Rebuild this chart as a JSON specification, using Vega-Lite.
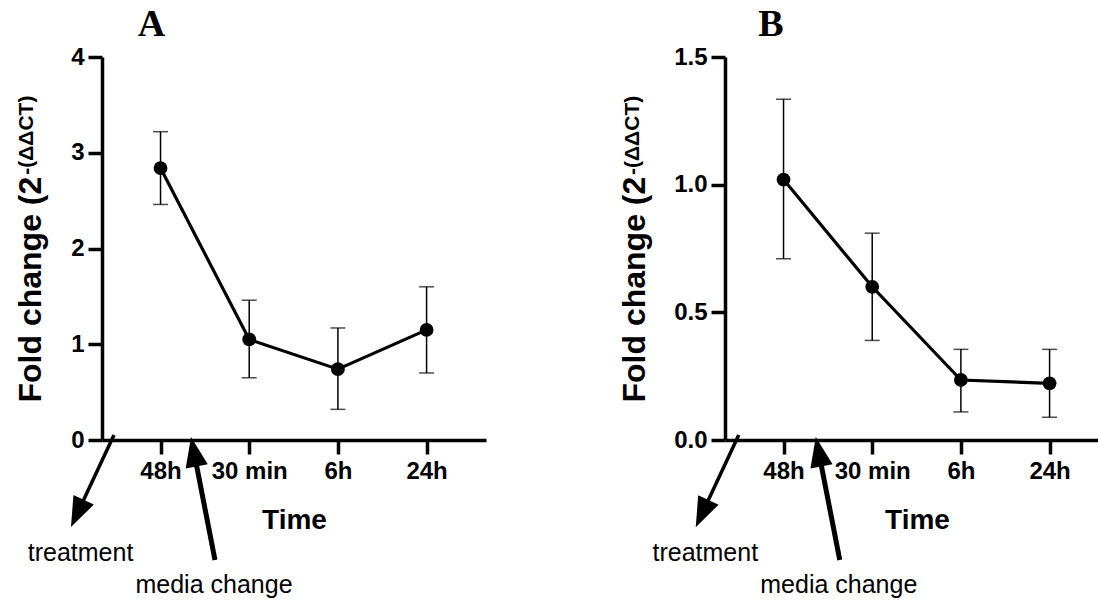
{
  "$schema": "https://vega.github.io/schema/vega-lite/v6.json",
  "padding": {"left": 13, "top": 6, "right": 0, "bottom": 0},
  "background": "white",
  "bounds": "flush",
  "spacing": 239,
  "config": {
    "view": {"stroke": null},
    "font": "Liberation Sans"
  },
  "datasets": {
    "A": [
      {"time": "48h", "t": 1, "mean": 2.84, "lo": 2.46, "hi": 3.22},
      {"time": "30 min", "t": 2, "mean": 1.05, "lo": 0.65, "hi": 1.46},
      {"time": "6h", "t": 3, "mean": 0.74, "lo": 0.32, "hi": 1.17},
      {"time": "24h", "t": 4, "mean": 1.15, "lo": 0.70, "hi": 1.60}
    ],
    "B": [
      {"time": "48h", "t": 1, "mean": 1.02, "lo": 0.71, "hi": 1.335},
      {"time": "30 min", "t": 2, "mean": 0.60, "lo": 0.39, "hi": 0.81},
      {"time": "6h", "t": 3, "mean": 0.235, "lo": 0.11, "hi": 0.355},
      {"time": "24h", "t": 4, "mean": 0.222, "lo": 0.089, "hi": 0.355}
    ],
    "arrowsA": [
      {"label": "treatment", "x": 0.475, "y": 0.052, "x2": 0.0615, "y2": -0.767},
      {"label": "media change", "x": 1.614, "y": -1.253, "x2": 1.376, "y2": -0.122}
    ],
    "labelsA": [
      {"label": "treatment", "x": 0.098, "y": -1.264},
      {"label": "media change", "x": 1.603, "y": -1.598}
    ],
    "supA": [{"label": "-(ΔΔCT)", "x": -0.438, "y": 2.77}],
    "arrowsB": [
      {"label": "treatment", "x": 0.495, "y": 0.0195, "x2": 0.0815, "y2": -0.288},
      {"label": "media change", "x": 1.634, "y": -0.470, "x2": 1.396, "y2": -0.0458}
    ],
    "labelsB": [
      {"label": "treatment", "x": 0.118, "y": -0.474},
      {"label": "media change", "x": 1.623, "y": -0.600}
    ],
    "supB": [{"label": "-(ΔΔCT)", "x": -0.63, "y": 1.038}]
  },
  "hconcat": [
    {
      "width": 384, "height": 383,
      "title": {"text": "A", "font": "Liberation Serif", "fontSize": 38, "fontWeight": "bold", "color": "black", "anchor": "start", "frame": "group", "align": "center", "dx": 49.5, "offset": 1},
      "layer": [
        {
          "data": {"name": "A"},
          "mark": {"type": "rule", "color": "black", "strokeWidth": 1.5},
          "encoding": {
            "x": {"field": "t", "type": "quantitative", "scale": {"domain": [0.34, 4.67], "nice": false, "zero": false},
                  "axis": {"values": [1, 2, 3, 4], "labelExpr": "['','48h','30 min','6h','24h'][datum.value]", "title": "Time",
                    "grid": false, "domainColor": "black", "domainWidth": 3.5, "tickColor": "black", "tickWidth": 3.5, "tickSize": 14,
                    "labelFont": "Liberation Sans", "labelFontSize": 24, "labelFontWeight": "bold", "labelColor": "black", "labelPadding": 5,
                    "labelOverlap": false, "labelFlush": false,
                    "titleFont": "Liberation Sans", "titleFontSize": 28, "titleFontWeight": "bold", "titleColor": "black",
                    "titleY": 88, "titleBaseline": "alphabetic"}},
            "y": {"field": "lo", "type": "quantitative", "scale": {"domain": [0, 4], "nice": false},
                  "axis": {"values": [0, 1, 2, 3, 4], "format": "d", "title": "Fold change (2",
                    "grid": false, "domainColor": "black", "domainWidth": 3.5, "tickColor": "black", "tickWidth": 3.5, "tickSize": 14,
                    "labelFont": "Liberation Sans", "labelFontSize": 24, "labelFontWeight": "bold", "labelColor": "black", "labelPadding": 4,
                    "labelOverlap": false, "labelFlush": false,
                    "titleFont": "Liberation Sans", "titleFontSize": 32, "titleFontWeight": "bold", "titleColor": "black",
                    "titleAngle": 270, "titleAlign": "left", "titleBaseline": "alphabetic", "titleX": -62, "titleY": 345}},
            "y2": {"field": "hi"}
          }
        },
        {
          "data": {"name": "A"},
          "mark": {"type": "tick", "orient": "horizontal", "color": "black", "size": 15, "thickness": 1.5},
          "encoding": {
            "x": {"field": "t", "type": "quantitative", "scale": {"domain": [0.34, 4.67], "nice": false, "zero": false}},
            "y": {"field": "lo", "type": "quantitative", "scale": {"domain": [0, 4], "nice": false}}
          }
        },
        {
          "data": {"name": "A"},
          "mark": {"type": "tick", "orient": "horizontal", "color": "black", "size": 15, "thickness": 1.5},
          "encoding": {
            "x": {"field": "t", "type": "quantitative", "scale": {"domain": [0.34, 4.67], "nice": false, "zero": false}},
            "y": {"field": "hi", "type": "quantitative", "scale": {"domain": [0, 4], "nice": false}}
          }
        },
        {
          "data": {"name": "A"},
          "mark": {"type": "line", "color": "black", "strokeWidth": 3.2},
          "encoding": {
            "x": {"field": "t", "type": "quantitative", "scale": {"domain": [0.34, 4.67], "nice": false, "zero": false}},
            "y": {"field": "mean", "type": "quantitative", "scale": {"domain": [0, 4], "nice": false}}
          }
        },
        {
          "data": {"name": "A"},
          "mark": {"type": "point", "filled": true, "color": "black", "opacity": 1, "size": 190, "shape": "circle"},
          "encoding": {
            "x": {"field": "t", "type": "quantitative", "scale": {"domain": [0.34, 4.67], "nice": false, "zero": false}},
            "y": {"field": "mean", "type": "quantitative", "scale": {"domain": [0, 4], "nice": false}}
          }
        },
        {
          "data": {"name": "arrowsA"},
          "transform": [{"filter": "datum.label === 'treatment'"}],
          "mark": {"type": "rule", "color": "black", "strokeWidth": 3.5},
          "encoding": {
            "x": {"field": "x", "type": "quantitative", "scale": {"domain": [0.34, 4.67], "nice": false, "zero": false}},
            "y": {"field": "y", "type": "quantitative", "scale": {"domain": [0, 4], "nice": false}},
            "x2": {"field": "x2"}, "y2": {"field": "y2"}
          }
        },
        {
          "data": {"name": "arrowsA"},
          "transform": [{"filter": "datum.label === 'treatment'"}],
          "mark": {"type": "point", "filled": true, "color": "black", "opacity": 1, "size": 900, "shape": "M0,-1L0.75,1L-0.75,1Z", "angle": 205},
          "encoding": {
            "x": {"field": "x2", "type": "quantitative", "scale": {"domain": [0.34, 4.67], "nice": false, "zero": false}},
            "y": {"field": "y2", "type": "quantitative", "scale": {"domain": [0, 4], "nice": false}}
          }
        },
        {
          "data": {"name": "arrowsA"},
          "transform": [{"filter": "datum.label === 'media change'"}],
          "mark": {"type": "rule", "color": "black", "strokeWidth": 5},
          "encoding": {
            "x": {"field": "x", "type": "quantitative", "scale": {"domain": [0.34, 4.67], "nice": false, "zero": false}},
            "y": {"field": "y", "type": "quantitative", "scale": {"domain": [0, 4], "nice": false}},
            "x2": {"field": "x2"}, "y2": {"field": "y2"}
          }
        },
        {
          "data": {"name": "arrowsA"},
          "transform": [{"filter": "datum.label === 'media change'"}],
          "mark": {"type": "point", "filled": true, "color": "black", "opacity": 1, "size": 900, "shape": "M0,-1L0.75,1L-0.75,1Z", "angle": 349},
          "encoding": {
            "x": {"field": "x2", "type": "quantitative", "scale": {"domain": [0.34, 4.67], "nice": false, "zero": false}},
            "y": {"field": "y2", "type": "quantitative", "scale": {"domain": [0, 4], "nice": false}}
          }
        },
        {
          "data": {"name": "labelsA"},
          "mark": {"type": "text", "font": "Liberation Sans", "fontSize": 25, "color": "black", "align": "center", "baseline": "alphabetic"},
          "encoding": {
            "x": {"field": "x", "type": "quantitative", "scale": {"domain": [0.34, 4.67], "nice": false, "zero": false}},
            "y": {"field": "y", "type": "quantitative", "scale": {"domain": [0, 4], "nice": false}},
            "text": {"field": "label"}
          }
        },
        {
          "data": {"name": "supA"},
          "mark": {"type": "text", "font": "Liberation Sans", "fontSize": 21, "fontWeight": "bold", "color": "black", "align": "left", "baseline": "alphabetic", "angle": 270},
          "encoding": {
            "x": {"field": "x", "type": "quantitative", "scale": {"domain": [0.34, 4.67], "nice": false, "zero": false}},
            "y": {"field": "y", "type": "quantitative", "scale": {"domain": [0, 4], "nice": false}},
            "text": {"field": "label"}
          }
        }
      ]
    },
    {
      "width": 384, "height": 383,
      "title": {"text": "B", "font": "Liberation Serif", "fontSize": 38, "fontWeight": "bold", "color": "black", "anchor": "start", "frame": "group", "align": "center", "dx": 46, "offset": 1},
      "layer": [
        {
          "data": {"name": "B"},
          "mark": {"type": "rule", "color": "black", "strokeWidth": 1.5},
          "encoding": {
            "x": {"field": "t", "type": "quantitative", "scale": {"domain": [0.34, 4.67], "nice": false, "zero": false},
                  "axis": {"values": [1, 2, 3, 4], "labelExpr": "['','48h','30 min','6h','24h'][datum.value]", "title": "Time",
                    "grid": false, "domainColor": "black", "domainWidth": 3.5, "tickColor": "black", "tickWidth": 3.5, "tickSize": 14,
                    "labelFont": "Liberation Sans", "labelFontSize": 24, "labelFontWeight": "bold", "labelColor": "black", "labelPadding": 5,
                    "labelOverlap": false, "labelFlush": false,
                    "titleFont": "Liberation Sans", "titleFontSize": 28, "titleFontWeight": "bold", "titleColor": "black",
                    "titleY": 88, "titleBaseline": "alphabetic"}},
            "y": {"field": "lo", "type": "quantitative", "scale": {"domain": [0, 1.5], "nice": false},
                  "axis": {"values": [0, 0.5, 1, 1.5], "format": ".1f", "title": "Fold change (2",
                    "grid": false, "domainColor": "black", "domainWidth": 3.5, "tickColor": "black", "tickWidth": 3.5, "tickSize": 14,
                    "labelFont": "Liberation Sans", "labelFontSize": 24, "labelFontWeight": "bold", "labelColor": "black", "labelPadding": 4,
                    "labelOverlap": false, "labelFlush": false,
                    "titleFont": "Liberation Sans", "titleFontSize": 32, "titleFontWeight": "bold", "titleColor": "black",
                    "titleAngle": 270, "titleAlign": "left", "titleBaseline": "alphabetic", "titleX": -81, "titleY": 345}},
            "y2": {"field": "hi"}
          }
        },
        {
          "data": {"name": "B"},
          "mark": {"type": "tick", "orient": "horizontal", "color": "black", "size": 15, "thickness": 1.5},
          "encoding": {
            "x": {"field": "t", "type": "quantitative", "scale": {"domain": [0.34, 4.67], "nice": false, "zero": false}},
            "y": {"field": "lo", "type": "quantitative", "scale": {"domain": [0, 1.5], "nice": false}}
          }
        },
        {
          "data": {"name": "B"},
          "mark": {"type": "tick", "orient": "horizontal", "color": "black", "size": 15, "thickness": 1.5},
          "encoding": {
            "x": {"field": "t", "type": "quantitative", "scale": {"domain": [0.34, 4.67], "nice": false, "zero": false}},
            "y": {"field": "hi", "type": "quantitative", "scale": {"domain": [0, 1.5], "nice": false}}
          }
        },
        {
          "data": {"name": "B"},
          "mark": {"type": "line", "color": "black", "strokeWidth": 3.2},
          "encoding": {
            "x": {"field": "t", "type": "quantitative", "scale": {"domain": [0.34, 4.67], "nice": false, "zero": false}},
            "y": {"field": "mean", "type": "quantitative", "scale": {"domain": [0, 1.5], "nice": false}}
          }
        },
        {
          "data": {"name": "B"},
          "mark": {"type": "point", "filled": true, "color": "black", "opacity": 1, "size": 190, "shape": "circle"},
          "encoding": {
            "x": {"field": "t", "type": "quantitative", "scale": {"domain": [0.34, 4.67], "nice": false, "zero": false}},
            "y": {"field": "mean", "type": "quantitative", "scale": {"domain": [0, 1.5], "nice": false}}
          }
        },
        {
          "data": {"name": "arrowsB"},
          "transform": [{"filter": "datum.label === 'treatment'"}],
          "mark": {"type": "rule", "color": "black", "strokeWidth": 3.5},
          "encoding": {
            "x": {"field": "x", "type": "quantitative", "scale": {"domain": [0.34, 4.67], "nice": false, "zero": false}},
            "y": {"field": "y", "type": "quantitative", "scale": {"domain": [0, 1.5], "nice": false}},
            "x2": {"field": "x2"}, "y2": {"field": "y2"}
          }
        },
        {
          "data": {"name": "arrowsB"},
          "transform": [{"filter": "datum.label === 'treatment'"}],
          "mark": {"type": "point", "filled": true, "color": "black", "opacity": 1, "size": 900, "shape": "M0,-1L0.75,1L-0.75,1Z", "angle": 205},
          "encoding": {
            "x": {"field": "x2", "type": "quantitative", "scale": {"domain": [0.34, 4.67], "nice": false, "zero": false}},
            "y": {"field": "y2", "type": "quantitative", "scale": {"domain": [0, 1.5], "nice": false}}
          }
        },
        {
          "data": {"name": "arrowsB"},
          "transform": [{"filter": "datum.label === 'media change'"}],
          "mark": {"type": "rule", "color": "black", "strokeWidth": 5},
          "encoding": {
            "x": {"field": "x", "type": "quantitative", "scale": {"domain": [0.34, 4.67], "nice": false, "zero": false}},
            "y": {"field": "y", "type": "quantitative", "scale": {"domain": [0, 1.5], "nice": false}},
            "x2": {"field": "x2"}, "y2": {"field": "y2"}
          }
        },
        {
          "data": {"name": "arrowsB"},
          "transform": [{"filter": "datum.label === 'media change'"}],
          "mark": {"type": "point", "filled": true, "color": "black", "opacity": 1, "size": 900, "shape": "M0,-1L0.75,1L-0.75,1Z", "angle": 349},
          "encoding": {
            "x": {"field": "x2", "type": "quantitative", "scale": {"domain": [0.34, 4.67], "nice": false, "zero": false}},
            "y": {"field": "y2", "type": "quantitative", "scale": {"domain": [0, 1.5], "nice": false}}
          }
        },
        {
          "data": {"name": "labelsB"},
          "mark": {"type": "text", "font": "Liberation Sans", "fontSize": 25, "color": "black", "align": "center", "baseline": "alphabetic"},
          "encoding": {
            "x": {"field": "x", "type": "quantitative", "scale": {"domain": [0.34, 4.67], "nice": false, "zero": false}},
            "y": {"field": "y", "type": "quantitative", "scale": {"domain": [0, 1.5], "nice": false}},
            "text": {"field": "label"}
          }
        },
        {
          "data": {"name": "supB"},
          "mark": {"type": "text", "font": "Liberation Sans", "fontSize": 21, "fontWeight": "bold", "color": "black", "align": "left", "baseline": "alphabetic", "angle": 270},
          "encoding": {
            "x": {"field": "x", "type": "quantitative", "scale": {"domain": [0.34, 4.67], "nice": false, "zero": false}},
            "y": {"field": "y", "type": "quantitative", "scale": {"domain": [0, 1.5], "nice": false}},
            "text": {"field": "label"}
          }
        }
      ]
    }
  ],
  "resolve": {"scale": {"x": "independent", "y": "independent"}}
}
